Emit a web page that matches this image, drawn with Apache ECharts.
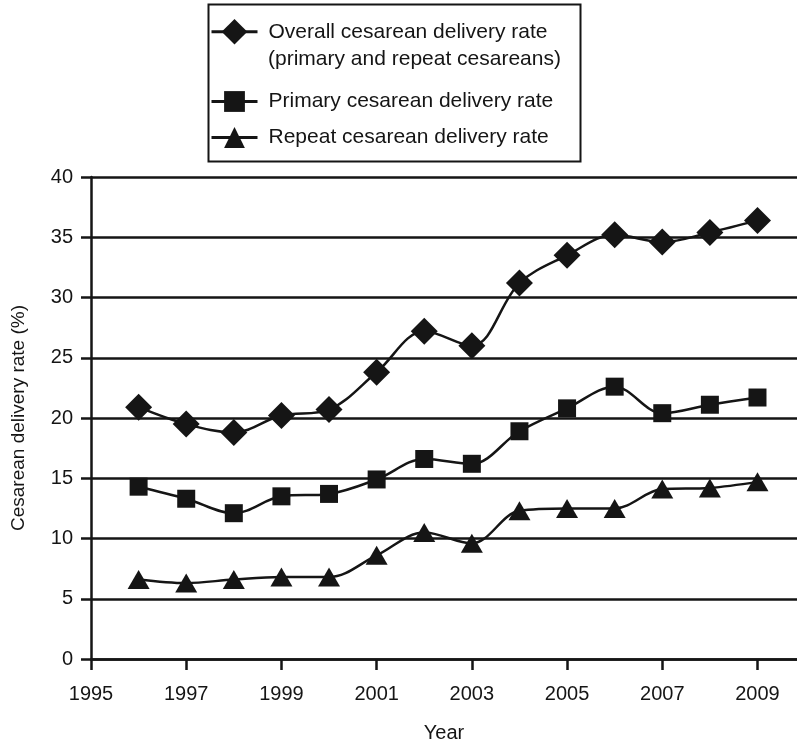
<!DOCTYPE html>
<html>
<head>
<meta charset="utf-8">
<script src="https://cdn.jsdelivr.net/npm/echarts@6/dist/echarts.min.js"></script>
<style>
  html, body { margin: 0; padding: 0; background: #fff; }
  #chart { width: 797px; height: 744px; }
</style>
</head>
<body>
<div id="chart"></div>
<script>
// values
var years = [1996, 1997, 1998, 1999, 2000, 2001, 2002, 2003, 2004, 2005, 2006, 2007, 2008, 2009]
var overall = [20.9, 19.5, 18.8, 20.2, 20.7, 23.8, 27.2, 26.0, 31.2, 33.5, 35.2, 34.6, 35.4, 36.4]
var primary = [14.3, 13.3, 12.1, 13.5, 13.7, 14.9, 16.6, 16.2, 18.9, 20.8, 22.6, 20.4, 21.1, 21.7]
var repeat = [6.6, 6.3, 6.6, 6.8, 6.8, 8.6, 10.5, 9.6, 12.3, 12.5, 12.5, 14.1, 14.2, 14.7]

var names = ['Overall cesarean delivery rate', 'Primary cesarean delivery rate', 'Repeat cesarean delivery rate']
var symbols = ['diamond', 'rect', 'triangle']
var sizes = [[27, 27], [18, 18], [22, 19]]
var values = [overall, primary, repeat]

var ink = '#151515'
var font = 'Liberation Sans, Arial, Helvetica, sans-serif'

function pairs(v) {
    return years.map(function (y, i) { return [y, v[i]] })
}

var series = names.map(function (n, i) {
    return {
        name: n,
        type: 'line',
        smooth: 0.35,
        data: pairs(values[i]),
        symbol: symbols[i],
        symbolSize: sizes[i],
        lineStyle: { color: ink, width: 2.5 },
        itemStyle: { color: ink },
        z: 3
    }
})

var legendText = { color: ink, fontSize: 21, fontFamily: font, padding: [0, 0, 0, 6] }

var option = {
    animation: false,
    backgroundColor: '#fff',
    grid: { left: 91, top: 177, width: 706, bottom: 85, containLabel: false, outerBoundsMode: 'none' },
    legend: [
        {
            data: [names[0]],
            left: 210, top: 19, padding: 0,
            itemWidth: 46, itemHeight: 32,
            lineStyle: { width: 3 },
            textStyle: legendText
        },
        {
            data: [names[1], names[2]],
            orient: 'vertical',
            left: 210, top: 91, padding: 0,
            itemWidth: 46, itemHeight: 26, itemGap: 15,
            lineStyle: { width: 3 },
            textStyle: legendText
        }
    ],
    graphic: [
        {
            type: 'rect', left: 206, top: 2,
            shape: { width: 372, height: 157 },
            style: { fill: 'none', stroke: ink, lineWidth: 2 }
        },
        {
            type: 'text', left: 268, top: 49,
            style: { text: '(primary and repeat cesareans)', fill: ink, fontSize: 21, fontFamily: font }
        }
    ],
    xAxis: {
        type: 'value',
        min: 1995, max: 2009.83, interval: 2,
        name: 'Year', nameLocation: 'middle', nameGap: 64,
        nameTextStyle: { color: ink, fontSize: 20, fontFamily: font },
        axisLine: { show: true, lineStyle: { color: ink, width: 2.5 } },
        axisTick: { show: true, length: 11, lineStyle: { color: ink, width: 2.5 } },
        axisLabel: {
            color: ink, fontSize: 20, fontFamily: font, margin: 25, showMaxLabel: false,
            formatter: function (v) { return String(v) }
        },
        splitLine: { show: false }
    },
    yAxis: {
        type: 'value',
        min: 0, max: 40, interval: 5,
        name: 'Cesarean delivery rate (%)', nameLocation: 'middle', nameGap: 63,
        nameTextStyle: { color: ink, fontSize: 19, fontFamily: font },
        axisLine: { show: true, lineStyle: { color: ink, width: 2.5 } },
        axisTick: { show: true, length: 10, lineStyle: { color: ink, width: 2.5 } },
        axisLabel: { color: ink, fontSize: 20, fontFamily: font, margin: 18 },
        splitLine: { show: true, lineStyle: { color: ink, width: 2.5 } }
    },
    series: series
}

var chart = echarts.init(document.getElementById('chart'))
chart.setOption(option)
</script>
</body>
</html>
